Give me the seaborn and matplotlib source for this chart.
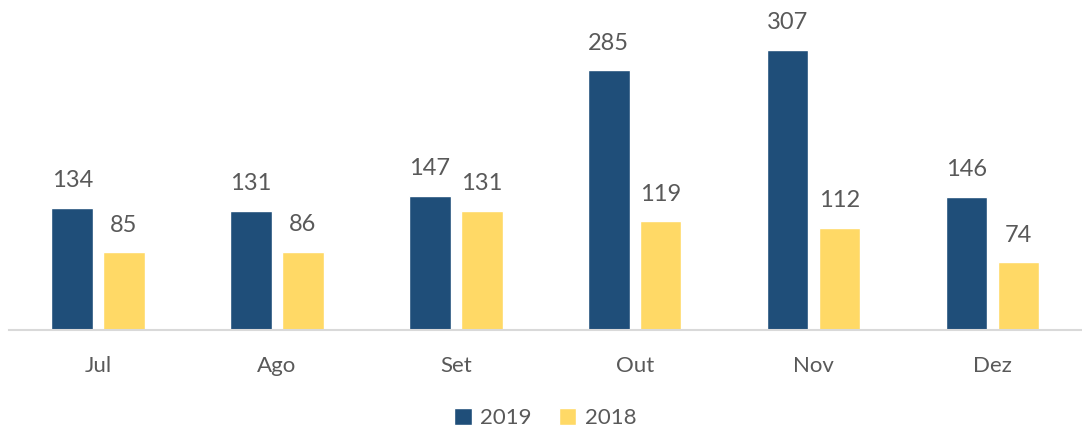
import pandas as pd
import seaborn as sns
import matplotlib.pyplot as plt

months = ["Jul", "Ago", "Set", "Out", "Nov", "Dez"]
values_2019 = [134, 131, 147, 285, 307, 146]
values_2018 = [85, 86, 131, 119, 112, 74]
years = ["2019", "2018"]
colors = ["#1F4E79", "#FFD966"]

df = pd.DataFrame({
    "mes": months * 2,
    "ano": [years[0]] * len(months) + [years[1]] * len(months),
    "valor": values_2019 + values_2018,
})

sns.set_style("white")
plt.rcParams["font.family"] = ["Lato", "DejaVu Sans"]
text_color = "#595959"

fig = plt.figure(figsize=(10.82, 4.33), dpi=100)
ax = fig.add_axes([0.008, 0.238, 0.992, 0.762])

sns.barplot(data=df, x="mes", y="valor", hue="ano", hue_order=years,
            palette=colors, width=0.58, gap=0.2, saturation=1, ax=ax)

for container in ax.containers:
    ax.bar_label(container, padding=12, fontsize=17, color=text_color)

ax.set_ylim(0, 362)
ax.set_xlim(-0.5, len(months) - 0.5)
ax.set_xlabel("")
ax.set_ylabel("")
ax.set_yticks([])
for side in ["top", "right", "left"]:
    ax.spines[side].set_visible(False)
ax.spines["bottom"].set_color("#D9D9D9")
ax.spines["bottom"].set_linewidth(1.5)
ax.tick_params(axis="x", length=0, pad=19, labelsize=16, labelcolor=text_color)

ax.legend(loc="upper center", bbox_to_anchor=(0.5, -0.175), ncol=2, frameon=False,
          fontsize=16, labelcolor=text_color, handlelength=0.8, handleheight=0.8,
          handletextpad=0.4, columnspacing=1.2)

fig.savefig("out.png", dpi=100)
